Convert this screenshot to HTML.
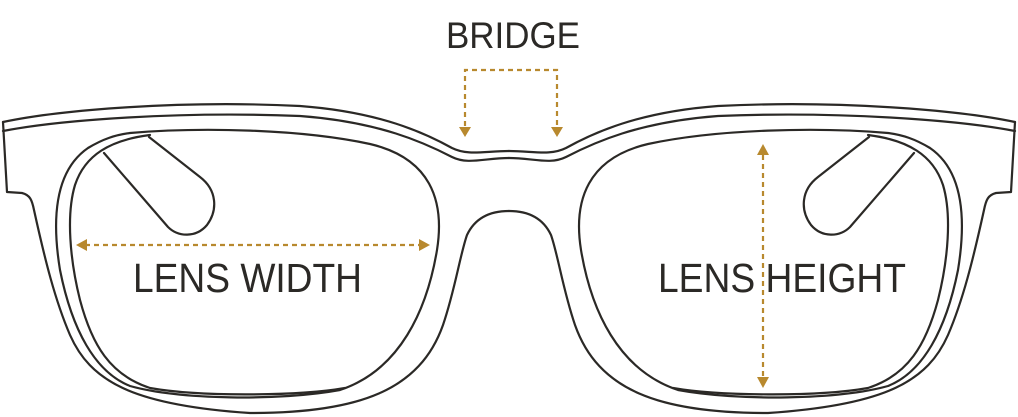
<!DOCTYPE html>
<html><head><meta charset="utf-8"><style>
html,body{margin:0;padding:0;background:#fff;width:1018px;height:417px;overflow:hidden}
svg{display:block}
text{font-family:"Liberation Sans",sans-serif;fill:#2b2926}
</style></head><body>
<svg width="1018" height="417" viewBox="0 0 1018 417" xmlns="http://www.w3.org/2000/svg">
<defs>
<g id="half" fill="none" stroke="#2b2926" stroke-width="2.2" stroke-linejoin="round" stroke-linecap="round">
<path d="M3,122 C60,110 180,100 300,106 C380,112 425,133 452,148 C468,156 485,151 509,151"/>
<path d="M3,131 C60,120 180,111 300,116 C380,122 425,143 452,157 C468,165 485,158 509,158"/>
<path d="M3,122 L7,192 L22,193 C30,195 32,200 34,210 C45,260 55,300 70,335 C90,380 130,405 250,413 C360,413 420,390 443,325 C455,290 460,255 467,235 C475,218 490,211 509,211"/>
<path d="M130,133 C200,127 300,129 370,144 C430,158 445,200 437,250 C427,310 400,370 340,390 C280,401 180,400 130,386 C95,372 72,330 60,270 C51,215 56,170 88,148 C103,139 115,135 130,133Z"/>
<path d="M150,135 C110,140 85,155 75,185 C66,215 70,260 80,300 C92,345 110,375 150,388 C200,397 300,396 345,388"/>
<path d="M104,153 L168,227 C178,237 196,238 207,225 C218,210 217,190 200,177 L149,137"/>
</g>
</defs>
<use href="#half"/>
<use href="#half" transform="translate(1018,0) scale(-1,1)"/>
<g stroke="#b8892e" stroke-width="2.2" stroke-dasharray="5,4" fill="none">
<path d="M465,126 L465,70 L557,70 L557,126"/>
<line x1="85" y1="245" x2="421" y2="245"/>
<line x1="763" y1="155" x2="763" y2="378"/>
</g>
<g fill="#b8892e">
<polygon points="459,127 471,127 465,137"/>
<polygon points="551,127 563,127 557,137"/>
<polygon points="76,245 87,239 87,251"/>
<polygon points="430,245 419,239 419,251"/>
<polygon points="763,144 757,155 769,155"/>
<polygon points="763,388 757,377 769,377"/>
</g>
<text x="446" y="48" font-size="37" textLength="134" lengthAdjust="spacingAndGlyphs">BRIDGE</text>
<text x="133" y="292" font-size="41" textLength="229" lengthAdjust="spacingAndGlyphs">LENS WIDTH</text>
<text x="658" y="292" font-size="41" textLength="248" lengthAdjust="spacingAndGlyphs">LENS HEIGHT</text>
</svg>
</body></html>
